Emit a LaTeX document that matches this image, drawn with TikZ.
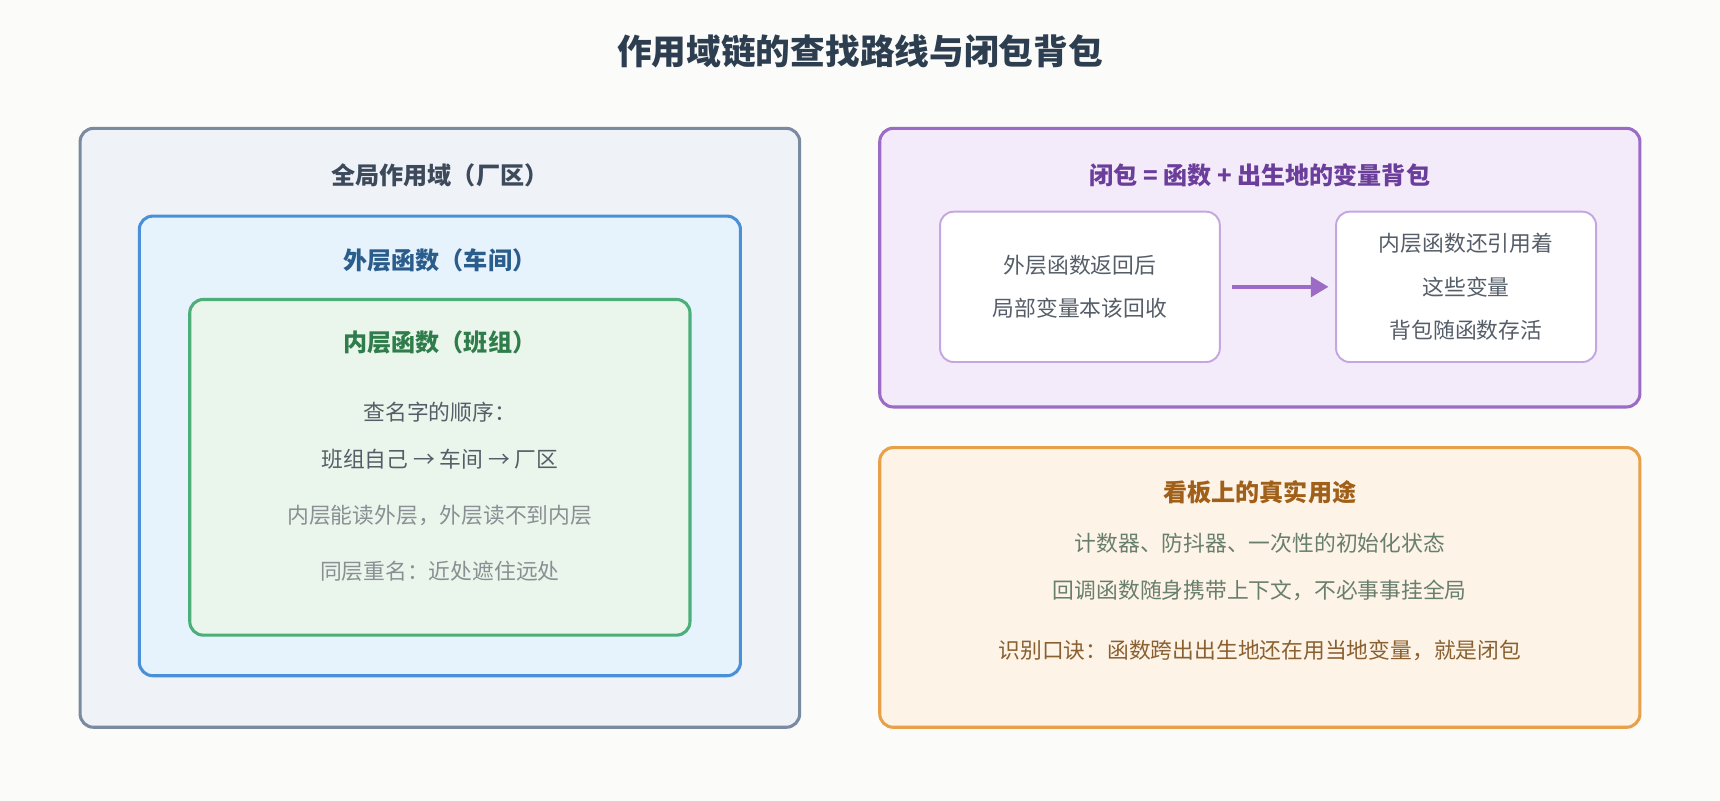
\documentclass[tikz,border=0pt]{standalone}
\usepackage{fontspec}
\setmainfont{Noto Sans CJK SC}
\usetikzlibrary{arrows.meta,positioning}
\definecolor{bgc}{HTML}{FBFBF9}
\definecolor{ttl}{HTML}{2C3E50}
\definecolor{gfill}{HTML}{EFF2F7}\definecolor{gline}{HTML}{7A8AA0}\definecolor{gtext}{HTML}{3D4A5C}
\definecolor{ofill}{HTML}{E6F3FD}\definecolor{oline}{HTML}{4A90D9}\definecolor{otext}{HTML}{2B5D8C}
\definecolor{ifill}{HTML}{EAF6EC}\definecolor{iline}{HTML}{4CAF7A}\definecolor{itext}{HTML}{2E7D4A}
\definecolor{pfill}{HTML}{F4EBFA}\definecolor{pline}{HTML}{9B6BC6}\definecolor{ptext}{HTML}{6A3E9A}
\definecolor{pbox}{HTML}{C4A6E0}
\definecolor{kfill}{HTML}{FDF3E7}\definecolor{kline}{HTML}{E8A04A}\definecolor{ktext}{HTML}{A0601A}
\definecolor{body}{HTML}{555E68}\definecolor{soft}{HTML}{8A8F94}\definecolor{brown}{HTML}{8A6030}
\newcommand{\arw}{-{Triangle[length=3.2mm,width=3.6mm]}}
\tikzset{
  box/.style={draw,line width=1.6pt,rounded corners=7pt,inner sep=0pt},
  hd/.style={font=\fontsize{12.5}{15}\selectfont\bfseries},
  txt/.style={font=\fontsize{11.3}{14}\selectfont,text=body},
}
\begin{document}
\begin{tikzpicture}[x=0.02cm,y=-0.02cm]
\useasboundingbox[fill=bgc] (0,0) rectangle (1568,730);
\node[font=\fontsize{18}{22}\selectfont\bfseries,text=ttl] (title) at (784,47) {作用域链的查找路线与闭包背包};
%scope chain
\node[box,draw=gline,fill=gfill,minimum width=656*0.02cm,minimum height=546*0.02cm] (global) at (401,390) {};
\node[hd,text=gtext] (globalt) at (401,160) {全局作用域（厂区）};
\node[box,draw=oline,fill=ofill,minimum width=548*0.02cm,minimum height=419*0.02cm] (outer) at (401,406.5) {};
\node[hd,text=otext] (outert) at (401,237) {外层函数（车间）};
\node[box,draw=iline,fill=ifill,minimum width=456*0.02cm,minimum height=306*0.02cm] (inner) at (401,426) {};
\node[hd,text=itext] (innert) at (401,312) {内层函数（班组）};
\node[txt] (order) at (401,376) {查名字的顺序：};
\node[txt] (route) at (401,419) {班组自己 → 车间 → 厂区};
\node[txt,text=soft] (rule) at (401,470) {内层能读外层，外层读不到内层};
\node[txt,text=soft] (shadow) at (401,521) {同层重名：近处遮住远处};
%closure
\node[box,draw=pline,fill=pfill,minimum width=693*0.02cm,minimum height=254*0.02cm] (closure) at (1148.5,244) {};
\node[hd,text=ptext] (closuret) at (1148.5,160) {闭包 = 函数 + 出生地的变量背包};
\node[box,draw=pbox,line width=1pt,fill=white,minimum width=255*0.02cm,minimum height=137*0.02cm,
  txt,align=center,font=\fontsize{11.3}{22.7}\selectfont] (before) at (984.5,261.5) {外层函数返回后\\局部变量本该回收};
\node[box,draw=pbox,line width=1pt,fill=white,minimum width=237*0.02cm,minimum height=137*0.02cm,
  txt,align=center,font=\fontsize{11.3}{22.7}\selectfont] (after) at (1336.5,261.5) {内层函数还引用着\\这些变量\\背包随函数存活};
\draw[pline,line width=2pt,\arw] ([xshift=10*0.02cm]before.east) -- ([xshift=-6*0.02cm]after.west);
%usage
\node[box,draw=kline,fill=kfill,minimum width=693*0.02cm,minimum height=255*0.02cm] (usage) at (1148.5,535.5) {};
\node[hd,text=ktext] (usaget) at (1148.5,449) {看板上的真实用途};
\node[txt,text=body!80!green!40!gray] (use1) at (1148.5,495) {计数器、防抖器、一次性的初始化状态};
\node[txt,text=body!80!green!40!gray] (use2) at (1148.5,538) {回调函数随身携带上下文，不必事事挂全局};
\node[txt,text=brown] (motto) at (1148.5,593) {识别口诀：函数跨出出生地还在用当地变量，就是闭包};
\end{tikzpicture}
\end{document}
